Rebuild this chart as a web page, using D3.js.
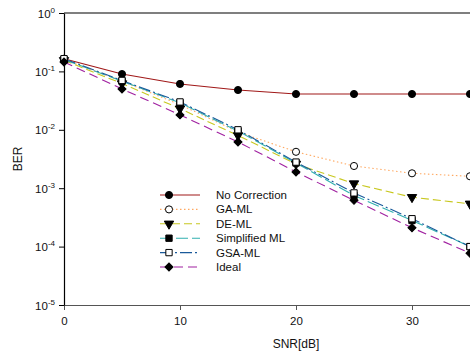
<!DOCTYPE html>
<html>
<head>
<meta charset="utf-8">
<script src="https://d3js.org/d3.v7.min.js"></script>
<style>
  body { margin: 0; background: #fff; }
  text { font-family: "Liberation Sans", Arial, sans-serif; fill: #111; }
</style>
</head>
<body>
<svg id="chart" width="470" height="354"></svg>
<script>
// data
const snr = [0, 5, 10, 15, 20, 25, 30, 35];
const noCorrection = [0.165, 0.090, 0.061, 0.048, 0.041, 0.041, 0.041, 0.041];
const gaML        = [0.160, 0.068, 0.027, 0.0092, 0.0042, 0.0024, 0.0018, 0.0016];
const deML        = [0.155, 0.062, 0.023, 0.0080, 0.0026, 0.0012, 0.0007, 0.00054];
const simplML     = [0.160, 0.068, 0.029, 0.0095, 0.0027, 0.00075, 0.00028, 0.0001];
const gsaML       = [0.165, 0.070, 0.030, 0.0100, 0.0028, 0.00083, 0.00030, 0.0001];
const ideal       = [0.145, 0.050, 0.018, 0.0062, 0.0019, 0.00062, 0.00021, 0.000077];
const xTicks = [0, 10, 20, 30];
const yTicks = [0, -1, -2, -3, -4, -5];

const series = [
  {name: "No Correction", values: noCorrection, color: "#a01818", dash: null, marker: "circle", fill: "#000"},
  {name: "GA-ML", values: gaML, color: "#ffa860", dash: "1.5,2.5", marker: "circle", fill: "#fff"},
  {name: "DE-ML", values: deML, color: "#c8c820", dash: "8,4", marker: "triangle", fill: "#000"},
  {name: "Simplified ML", values: simplML, color: "#30b0b0", dash: "12,4", marker: "square", fill: "#000"},
  {name: "GSA-ML", values: gsaML, color: "#1a5a9a", dash: "12,3,2,3", marker: "square", fill: "#fff"},
  {name: "Ideal", values: ideal, color: "#a020a0", dash: "9,5", marker: "diamond", fill: "#000"}
];

const svg = d3.select("#chart");
const mLeft = 64, mTop = 13, mRight = 528, mBottom = 305;

const x = d3.scaleLinear().domain([0, 40]).range([mLeft, mRight]);
const y = d3.scaleLog().domain([1e-5, 1]).range([mBottom, mTop]);

// top frame
svg.append("line").attr("x1", mLeft).attr("x2", mRight).attr("y1", mTop).attr("y2", mTop)
  .attr("stroke", "#000").attr("stroke-width", 1.2);

// x axis
const gx = svg.append("g").attr("transform", `translate(0,${mBottom})`)
  .call(d3.axisBottom(x).tickValues(xTicks).tickSize(5).tickSizeOuter(0));
gx.select(".domain").attr("stroke", "#555").attr("stroke-width", 1.2);
gx.selectAll(".tick line").attr("stroke", "#555");
gx.selectAll(".tick text").attr("font-size", 11.5).attr("dy", "1.05em");

// y axis
const gy = svg.append("g").attr("transform", `translate(${mLeft},0)`)
  .call(d3.axisLeft(y).tickValues(yTicks.map(e => Math.pow(10, e))).tickSize(5).tickSizeOuter(0).tickFormat(""));
gy.select(".domain").attr("stroke", "#000").attr("stroke-width", 1.2);
gy.selectAll(".tick line").attr("stroke", "#000");
gy.selectAll(".tick").each(function(d) {
  const t = d3.select(this).append("text").attr("x", -9).attr("y", 4)
    .attr("text-anchor", "end").attr("font-size", 11.5);
  t.append("tspan").text("10");
  t.append("tspan").attr("dy", -5).attr("font-size", 8).text(Math.round(Math.log10(d)));
});

// axis titles
svg.append("text").attr("x", 296).attr("y", 348).attr("text-anchor", "middle")
  .attr("font-size", 12).text("SNR[dB]");
svg.append("text").attr("transform", "translate(22,159) rotate(-90)")
  .attr("text-anchor", "middle").attr("font-size", 12).text("BER");

const line = d3.line().x((d, i) => x(snr[i])).y(d => y(d));

function marker(g, type, cx, cy, fill) {
  const sym = {circle: d3.symbolCircle, triangle: d3.symbolTriangle, square: d3.symbolSquare, diamond: d3.symbolSquare}[type];
  const size = {circle: 40, triangle: 38, square: 40, diamond: 32}[type];
  let tf = `translate(${cx},${cy})`;
  if (type === "triangle") tf += " rotate(180)";
  if (type === "diamond") tf += " rotate(45)";
  g.append("path").attr("d", d3.symbol().type(sym).size(size)())
    .attr("transform", tf)
    .attr("fill", fill).attr("stroke", "#000").attr("stroke-width", 1);
}

const plot = svg.append("g");
series.forEach(s => {
  plot.append("path").datum(s.values).attr("d", line)
    .attr("fill", "none").attr("stroke", s.color).attr("stroke-width", 1.1)
    .attr("stroke-dasharray", s.dash);
});
series.forEach(s => {
  s.values.forEach((v, i) => marker(plot, s.marker, x(snr[i]), y(v), s.fill));
});

// legend
const lg = svg.append("g");
series.forEach((s, i) => {
  const ly = 195 + i * 14.4;
  lg.append("line").attr("x1", 160).attr("x2", 200).attr("y1", ly).attr("y2", ly)
    .attr("stroke", s.color).attr("stroke-width", 1.1).attr("stroke-dasharray", s.dash);
  marker(lg, s.marker, 169, ly, s.fill);
  lg.append("text").attr("x", 216).attr("y", ly + 4).attr("font-size", 11.5).text(s.name);
});
</script>
</body>
</html>
